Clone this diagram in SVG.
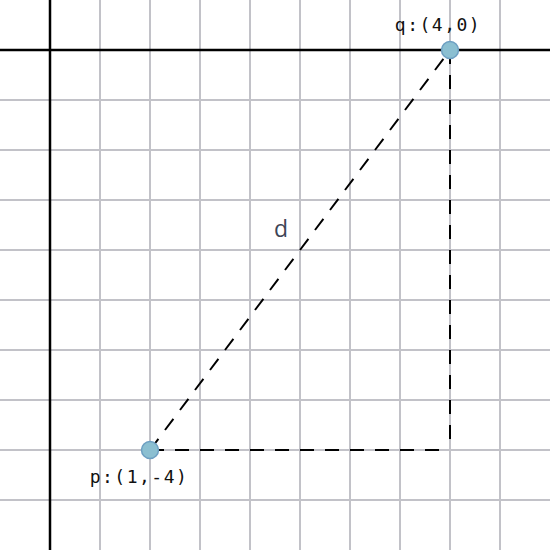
<svg xmlns="http://www.w3.org/2000/svg" width="550" height="550" viewBox="0 0 550 550">
<style>
.grid line{stroke:#c2c2c8;stroke-width:2}
.axis{stroke:#000;stroke-width:2.5}
.dash{stroke:#000;stroke-width:2;stroke-dasharray:14 11;fill:none}
.pt{fill:#8bbfd1;stroke:#6d9fc2;stroke-width:1.5}
.lbl{font-family:"DejaVu Sans Mono","Liberation Mono",monospace;font-size:18px;letter-spacing:1.5px;fill:#111;text-anchor:middle}
.d{font-family:"Open Sans","Liberation Sans",sans-serif;font-size:23px;fill:#3d4456;text-anchor:middle}
</style>
<rect width="550" height="550" fill="#fff"/>
<g class="grid">
<line x1="100" y1="0" x2="100" y2="550"/><line x1="150" y1="0" x2="150" y2="550"/><line x1="200" y1="0" x2="200" y2="550"/><line x1="250" y1="0" x2="250" y2="550"/><line x1="300" y1="0" x2="300" y2="550"/><line x1="350" y1="0" x2="350" y2="550"/><line x1="400" y1="0" x2="400" y2="550"/><line x1="450" y1="0" x2="450" y2="550"/><line x1="500" y1="0" x2="500" y2="550"/>
<line x1="0" y1="100" x2="550" y2="100"/><line x1="0" y1="150" x2="550" y2="150"/><line x1="0" y1="200" x2="550" y2="200"/><line x1="0" y1="250" x2="550" y2="250"/><line x1="0" y1="300" x2="550" y2="300"/><line x1="0" y1="350" x2="550" y2="350"/><line x1="0" y1="400" x2="550" y2="400"/><line x1="0" y1="450" x2="550" y2="450"/><line x1="0" y1="500" x2="550" y2="500"/>
</g>
<g id="axes">
<line class="axis" x1="50" y1="0" x2="50" y2="550"/>
<line class="axis" x1="0" y1="50" x2="550" y2="50"/>
</g>
<g id="connectors">
<line class="dash" x1="150" y1="450" x2="450" y2="50"/>
<line class="dash" x1="150" y1="450" x2="450" y2="450"/>
<line class="dash" x1="450" y1="50" x2="450" y2="450"/>
</g>
<g id="p">
<circle class="pt" cx="150" cy="450" r="8.5"/>
<text class="lbl" x="139" y="483">p:(1,-4)</text>
</g>
<g id="q">
<circle class="pt" cx="450" cy="50" r="8.5"/>
<text class="lbl" x="438" y="31">q:(4,0)</text>
</g>
<g id="dlabel">
<text class="d" x="281" y="237">d</text>
</g>
</svg>
